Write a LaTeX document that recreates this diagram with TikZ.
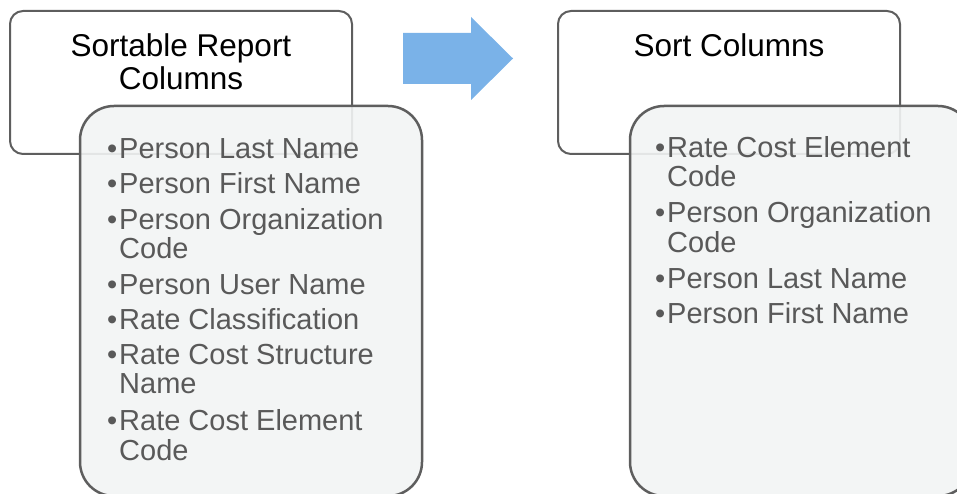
\documentclass[tikz,border=0pt]{standalone}
\usepackage{fontspec}
\setmainfont{Liberation Sans}
\definecolor{hdrline}{HTML}{5E5E5E}
\definecolor{bodyfill}{HTML}{F2F4F4}
\definecolor{bodytext}{HTML}{595959}
\definecolor{arrowblue}{HTML}{7AB2E8}
\tikzset{
  hdrbox/.style={draw=hdrline, line width=2pt, fill=white, rounded corners=13pt},
  bodybox/.style={draw=hdrline, line width=2.5pt, fill=bodyfill, fill opacity=0.9, rounded corners=34pt},
  hdrtext/.style={font=\fontsize{31.5}{33}\selectfont, text=black, inner sep=0pt, anchor=base},
  itemtext/.style={font=\fontsize{29}{30}\selectfont, text=bodytext, inner sep=0pt, anchor=base west},
  bul/.style={font=\fontsize{29}{30}\selectfont, text=bodytext, inner sep=0pt, anchor=base west},
  bigarrow/.style={fill=arrowblue, draw=none}
}
\begin{document}
\begin{tikzpicture}[x=1pt,y=-1pt]
\useasboundingbox (0,0) rectangle (957,494);
\clip (0,0) rectangle (957,494);
% left group
\draw[hdrbox] (10,11) rectangle (352,154);
\node[hdrtext] (lh1) at (181,56.5) {Sortable Report};
\node[hdrtext] (lh2) at (181,89.5) {Columns};
\draw[bodybox] (80,106) rectangle (422,496);
\foreach \n/\y in {b1/158.5,b2/193.5,b3/229.5,b4/294.5,b5/329.5,b6/364.5,b7/430.5}
  \node[bul] (l\n) at (107,\y) {•};
\node[itemtext] (l1) at (119,158.5) {Person Last Name};
\node[itemtext] (l2) at (119,193.5) {Person First Name};
\node[itemtext] (l3) at (119,229.5) {Person Organization};
\node[itemtext] (l3b) at (119,258.5) {Code};
\node[itemtext] (l4) at (119,294.5) {Person User Name};
\node[itemtext] (l5) at (119,329.5) {Rate Classification};
\node[itemtext] (l6) at (119,364.5) {Rate Cost Structure};
\node[itemtext] (l6b) at (119,393.5) {Name};
\node[itemtext] (l7) at (119,430.5) {Rate Cost Element};
\node[itemtext] (l7b) at (119,460.5) {Code};
% arrow
\fill[bigarrow] (403,33) -- (471,33) -- (471,17) -- (513,58.5) -- (471,100) -- (471,84) -- (403,84) -- cycle;
% right group
\draw[hdrbox] (558,11) rectangle (900,154);
\node[hdrtext] (rh1) at (729,56.5) {Sort Columns};
\draw[bodybox] (630,106) rectangle (972,496);
\foreach \n/\y in {b1/157.5,b2/222.5,b3/288.5,b4/323.5}
  \node[bul] (r\n) at (655,\y) {•};
\node[itemtext] (r1) at (667,157.5) {Rate Cost Element};
\node[itemtext] (r1b) at (667,186.5) {Code};
\node[itemtext] (r2) at (667,222.5) {Person Organization};
\node[itemtext] (r2b) at (667,252.5) {Code};
\node[itemtext] (r3) at (667,288.5) {Person Last Name};
\node[itemtext] (r4) at (667,323.5) {Person First Name};
\end{tikzpicture}
\end{document}
